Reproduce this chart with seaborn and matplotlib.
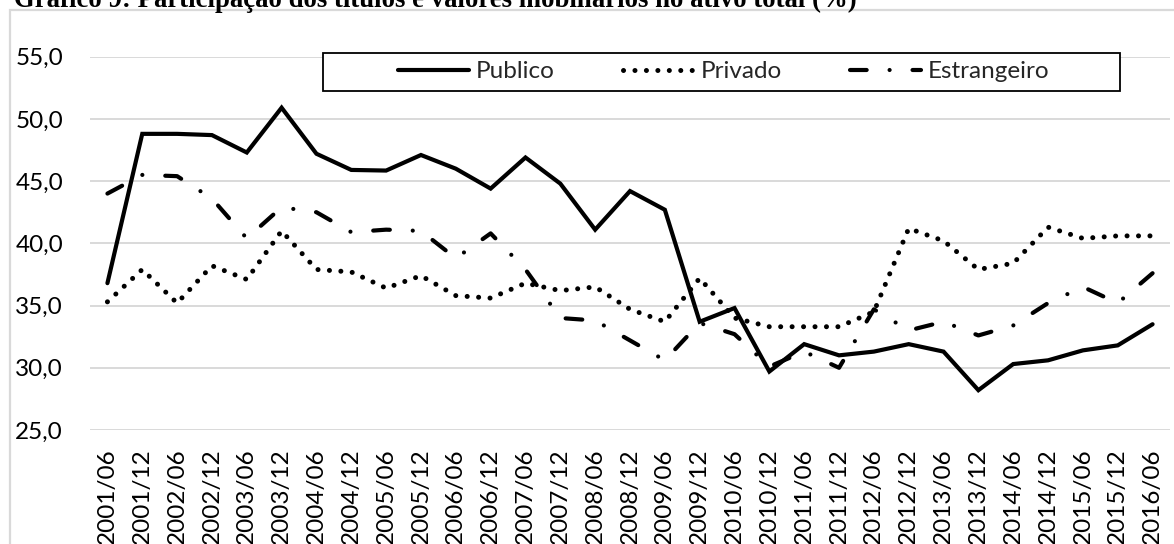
import numpy as np
import pandas as pd
import seaborn as sns
import matplotlib
matplotlib.use("Agg")
import matplotlib.pyplot as plt
from matplotlib.patches import Rectangle

# Semester labels (category axis)
periods = [
    "2001/06", "2001/12", "2002/06", "2002/12", "2003/06", "2003/12",
    "2004/06", "2004/12", "2005/06", "2005/12", "2006/06", "2006/12",
    "2007/06", "2007/12", "2008/06", "2008/12", "2009/06", "2009/12",
    "2010/06", "2010/12", "2011/06", "2011/12", "2012/06", "2012/12",
    "2013/06", "2013/12", "2014/06", "2014/12", "2015/06", "2015/12",
    "2016/06",
]

# Share of securities in total assets (%)
publico = [36.8, 48.8, 48.8, 48.7, 47.3, 50.9, 47.2, 45.9, 45.85, 47.1,
           46.0, 44.4, 46.9, 44.8, 41.1, 44.2, 42.7, 33.7, 34.8, 29.7,
           31.9, 31.0, 31.3, 31.9, 31.3, 28.2, 30.3, 30.6, 31.4, 31.8, 33.5]
privado = [35.3, 37.9, 35.2, 38.2, 37.1, 41.0, 37.9, 37.7, 36.4, 37.4,
           35.8, 35.6, 36.8, 36.2, 36.5, 34.7, 33.7, 37.2, 34.0, 33.3,
           33.3, 33.3, 34.5, 41.2, 40.2, 37.9, 38.4, 41.3, 40.4, 40.6, 40.6]
estrangeiro = [44.0, 45.5, 45.4, 43.6, 40.4, 42.9, 42.5, 40.9, 41.1, 41.0,
               38.8, 40.8, 37.9, 34.0, 33.8, 32.2, 30.6, 33.6, 32.7, 30.1,
               31.3, 30.0, 34.7, 33.0, 33.7, 32.6, 33.4, 35.2, 36.5, 35.2, 37.6]

series_names = ["Publico", "Privado", "Estrangeiro"]
y_ticks = [25, 30, 35, 40, 45, 50, 55]
y_tick_labels = [f"{v:.1f}".replace(".", ",") for v in y_ticks]

title = "Gráfico 9: Participação dos títulos e valores mobiliários no ativo total (%)"

sns.set_theme(style="white")
plt.rcParams["font.family"] = ["Lato", "DejaVu Sans"]

W, H = 1174, 544
DPI = 100
fig = plt.figure(figsize=(W / DPI, H / DPI), dpi=DPI)
fig.patch.set_facecolor("white")

# Plot area in pixel terms
left_px, right_px, top_px, bottom_px = 90, 1170, 56.7, 430
ax = fig.add_axes([left_px / W, 1 - bottom_px / H,
                   (right_px - left_px) / W, (bottom_px - top_px) / H])
ax.set_facecolor("white")

df = pd.DataFrame({"periodo": periods, "Publico": publico,
                   "Privado": privado, "Estrangeiro": estrangeiro})

styles = {
    "Publico": dict(linewidth=3.0, linestyle="-", solid_capstyle="round",
                    solid_joinstyle="miter"),
    "Privado": dict(linewidth=3.6, linestyle=(0, (0.01, 2.28)),
                    dash_capstyle="round"),
    "Estrangeiro": dict(linewidth=3.0, linestyle=(0, (4.0, 5.5, 0.01, 5.5)),
                        dash_capstyle="round"),
}
for name in series_names:
    sns.lineplot(data=df, x="periodo", y=name, ax=ax, sort=False,
                 color="black", label=name, legend=False, **styles[name])

ax.set_xlim(-0.5, len(periods) - 0.5)
ax.set_ylim(25, 55)
ax.set_yticks(y_ticks)
ax.set_yticklabels(y_tick_labels)
ax.set_xticks(range(len(periods)))
ax.set_xticklabels(periods, rotation=90)
ax.set_xlabel("")
ax.set_ylabel("")
ax.grid(axis="y", color="#d9d9d9", linewidth=1.4)
ax.grid(axis="x", visible=False)
ax.set_axisbelow(True)
for s in ax.spines.values():
    s.set_visible(False)
ax.tick_params(axis="both", length=0, labelsize=17.5, colors="black")
ax.tick_params(axis="y", pad=19.4)
ax.tick_params(axis="x", pad=13)

# Legend box
box_l, box_r, box_t, box_b = 323, 1120, 52.7, 90.7
rect = Rectangle((box_l / W, 1 - box_b / H), (box_r - box_l) / W,
                 (box_b - box_t) / H, transform=fig.transFigure,
                 facecolor="white", edgecolor="black", linewidth=1.3,
                 zorder=5)
ax.add_patch(rect)
rect.set_clip_on(False)
handles, labels = ax.get_legend_handles_labels()
leg = ax.legend(handles, labels, ncol=3, frameon=False, loc="center",
                bbox_to_anchor=(724 / W, 1 - 71.7 / H),
                bbox_transform=fig.transFigure, fontsize=17.5,
                handlelength=2.9, handletextpad=0.3, columnspacing=2.8,
                borderpad=0, borderaxespad=0)
leg.set_zorder(6)

# Chart area border
fig.patches.append(Rectangle((10 / W, -0.2), 1.5, 1 - 10 / H + 0.2,
                             transform=fig.transFigure, facecolor="none",
                             edgecolor="#d9d9d9", linewidth=1.6))

# Title, sized to its printed width
t = fig.text(14 / W, 1 - 7.3 / H, title, ha="left", va="baseline",
             fontfamily=["Liberation Serif", "DejaVu Serif"],
             fontweight="bold", fontsize=16, color="black")
fig.canvas.draw()
wpx = t.get_window_extent(fig.canvas.get_renderer()).width
t.set_fontsize(16 * 844 / wpx)

fig.savefig("out.png", dpi=DPI, facecolor="white")
